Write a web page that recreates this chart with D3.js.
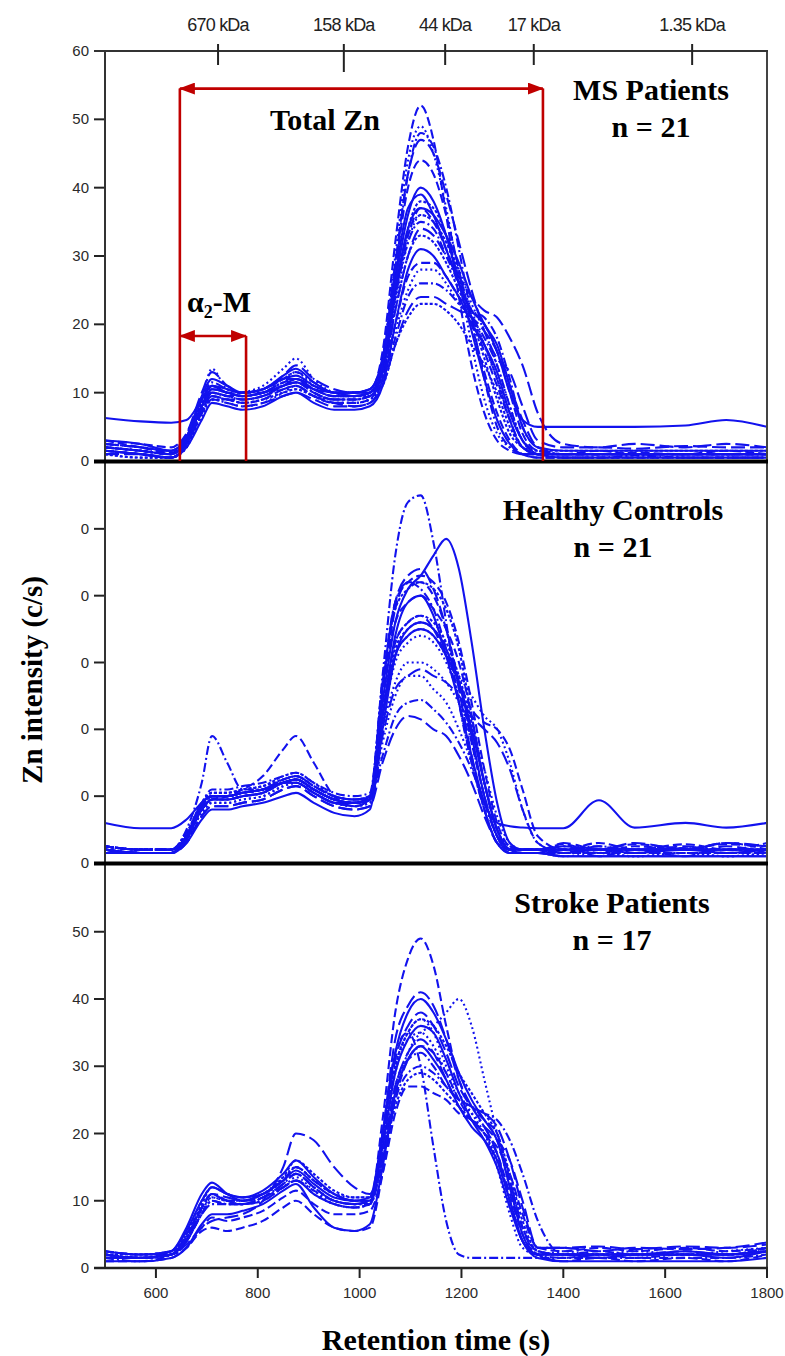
<!DOCTYPE html>
<html>
<head>
<meta charset="utf-8">
<script src="https://cdn.jsdelivr.net/npm/d3@7"></script>
<style>
  body { margin: 0; background: #fff; }
  svg { display: block; }
</style>
</head>
<body>
<svg id="chart"></svg>
<script>
// ************************************************************************************************** //
// Data

// retention time grid (s) shared by all traces
var retentionTimes = [500, 570, 630, 660, 690, 710, 740, 770, 810, 850, 875, 910, 950, 990, 1020, 1045, 1070, 1095,
  1120, 1145, 1170, 1195, 1220, 1245, 1270, 1295, 1320, 1350, 1400, 1470, 1540, 1640, 1720, 1800];

var msCurves = [
  [6.3, 5.8, 5.6, 6, 9, 11, 10.5, 10, 10.5, 12, 12.5, 11, 10, 10, 10.5, 15, 27, 37, 39, 36, 31, 26, 22, 20, 16, 10, 6, 5, 5, 5, 5, 5.2, 6, 5],
  [3, 2, 1.2, 3, 8, 11, 10, 9.5, 10, 11.5, 12, 10.5, 9.5, 9.5, 10, 16, 32, 46, 52, 47, 36, 24, 14, 7, 3, 1.5, 1, 1, 1, 1.5, 1, 1, 1.5, 1],
  [2, 1.5, 1, 3.5, 9, 13.5, 10.5, 10, 10.5, 12, 13, 11, 10, 9.5, 10, 15, 30, 44, 49, 45, 37, 27, 17, 9, 4, 2, 1, 1, 1, 1, 1, 1, 1, 1],
  [1.5, 1, 0.5, 2.5, 7, 10, 9.5, 9, 9.5, 11, 11.5, 10, 9, 9, 9.5, 14, 28, 42, 48, 46, 40, 31, 21, 12, 5, 2, 1, 0.5, 0.5, 0.5, 0.8, 0.5, 0.5, 0.5],
  [2.5, 2, 1.5, 4, 10, 13, 11, 10, 10, 12.5, 14, 12, 10.5, 10, 10.5, 15, 29, 42, 47, 45, 39, 32, 25, 19, 15, 13, 8, 3, 2, 2, 1.8, 2.2, 2, 2],
  [1, 0.5, 0.5, 2, 7, 9, 9, 8.5, 9, 10, 10.5, 9.5, 9, 9, 9.5, 13, 24, 34, 38, 37, 33, 27, 21, 15, 9, 4, 2, 1, 1, 1, 1, 1, 1, 1],
  [2, 1.5, 1, 3, 8, 10.5, 10, 9.5, 10, 11, 11.5, 10.5, 10, 9.5, 10, 13, 25, 34, 37, 36, 33, 29, 24, 20, 17, 11, 5, 2, 1.5, 1.5, 1.5, 1.5, 1.5, 1.5],
  [3, 2.5, 2, 4, 9, 11, 10, 10, 10.5, 12, 12, 11, 10, 10, 10, 14, 25, 33, 37, 35, 31, 26, 21, 16, 11, 6, 2, 1, 1, 1, 1.2, 1, 1, 1],
  [1.5, 1, 0.5, 2, 6.5, 9, 8.5, 8, 8.5, 10, 11, 9.5, 8.5, 8.5, 9, 12, 23, 32, 36, 35, 32, 28, 23, 19, 14, 8, 3, 1, 0.5, 0.5, 0.5, 0.5, 0.5, 0.5],
  [2, 1.5, 1, 3, 8, 10, 9.5, 9, 9.5, 11, 12, 10, 9, 9, 9.5, 13, 24, 32, 35, 34, 30, 26, 22, 21, 18, 12, 5, 2, 1, 1, 1, 1, 1, 1],
  [1, 1, 0.5, 2.5, 7.5, 9.5, 9, 9, 9.5, 10.5, 11, 9.5, 8.5, 8, 8.5, 12, 22, 30, 34, 33, 30, 27, 24, 22, 21, 18, 14, 7, 2.5, 2, 2.5, 2, 2.5, 2],
  [2.5, 2, 1.5, 3.5, 8.5, 10.5, 10, 9.5, 10, 11.5, 12, 10.5, 9.5, 9.5, 10, 13, 22, 30, 33, 32, 29, 25, 21, 17, 12, 6, 2, 1.5, 1.5, 1.5, 1.5, 1.5, 1.5, 1.5],
  [1.5, 1, 0.5, 2, 6, 8.5, 8, 7.5, 8, 9.5, 10, 8.5, 7.5, 7.5, 8, 11, 20, 28, 31, 30, 27, 24, 20, 17, 13, 7, 3, 1, 0.5, 0.5, 0.5, 0.5, 0.5, 0.5],
  [2, 1.5, 1, 3, 8, 10, 9.5, 9.5, 10, 11, 11.5, 10, 9, 9, 9.5, 12, 20, 27, 29, 29, 27, 24, 22, 20, 16, 10, 4, 1.5, 1, 1, 1, 1, 1, 1],
  [1, 0.5, 0.5, 2, 7, 9, 9, 8.5, 9, 10, 10.5, 9.5, 8.5, 8.5, 9, 12, 19, 25, 28, 28, 26, 23, 20, 17, 12, 6, 2, 1, 1, 1, 1, 1, 1, 1],
  [2.5, 2, 1.5, 3.5, 9, 11.5, 10.5, 10, 10.5, 12, 13, 11.5, 10, 10, 10, 12, 18, 24, 26, 26, 25, 23, 21, 18, 14, 8, 3, 1.5, 1, 1, 1, 1, 1, 1],
  [1.5, 1, 0.5, 2.5, 7, 9, 8.5, 8, 8.5, 9.5, 10, 9, 8, 8, 8.5, 11, 17, 22, 24, 24, 23, 22, 21, 19, 16, 11, 6, 2, 1, 1, 1, 1, 1, 1],
  [2, 1.5, 1, 3, 8, 10.5, 10, 9.5, 10, 11, 12, 10.5, 9.5, 9.5, 9.5, 11, 17, 21, 23, 23, 22, 20, 17, 14, 10, 5, 2, 1, 1, 1, 1, 1, 1, 1],
  [3, 2.5, 1.5, 3.5, 9.5, 12, 11, 10, 10.5, 12.5, 13.5, 11.5, 10, 10, 10.5, 14, 26, 36, 40, 38, 33, 26, 19, 12, 6, 2.5, 1, 1, 1, 1, 1, 1, 1, 1],
  [1.5, 1, 0.5, 2.5, 7.5, 9.5, 9, 8.5, 9, 10.5, 11, 9.5, 8.5, 8.5, 9, 14, 28, 40, 44, 42, 36, 28, 20, 13, 7, 3, 1, 0.5, 0.5, 0.5, 0.5, 0.5, 0.5, 0.5],
  [2, 1.5, 1, 3, 8, 10, 9.5, 10, 11, 13.5, 15, 12, 10, 9.5, 10, 13, 24, 33, 36, 35, 32, 27, 22, 17, 12, 7, 3, 1, 1, 1, 1, 1, 1, 1]
];

var controlCurves = [
  [6, 5.2, 5.2, 6.5, 9, 10, 10, 10.5, 11, 12, 12, 10.5, 9, 9, 10, 22, 34, 39, 40, 37, 31, 24, 16, 9, 6, 5.5, 5.3, 5.2, 5.2, 9.4, 5.3, 6, 5.3, 6],
  [2.5, 2, 2, 4, 8, 9.5, 10, 11, 13, 17, 19, 15, 10, 8.5, 9.5, 25, 38, 42, 42, 40, 35, 27, 18, 10, 4, 2, 2, 2, 2.8, 1.5, 2.5, 2, 3, 2],
  [2, 1.5, 1.5, 3.5, 8, 9.5, 9.5, 10, 10.5, 12, 12.5, 11, 9.5, 9, 9.5, 21, 31, 34, 35, 34, 31, 28, 25, 22, 20, 15, 8, 3, 1.5, 1.5, 1, 1.5, 1, 1.5],
  [2.5, 2, 2, 5, 12, 19, 15, 11, 11, 12, 12.5, 11, 9.5, 9, 10, 28, 46, 54, 55, 48, 36, 24, 15, 8, 3, 2, 2, 2, 2, 2.5, 2, 2.2, 2, 2],
  [2, 1.5, 1.5, 3.5, 8.5, 10, 10, 10.5, 11, 12.5, 13, 11.5, 10, 9.5, 10, 26, 39, 43, 44, 41, 35, 26, 16, 8, 3, 1.5, 1.5, 1.5, 2.5, 1, 2, 1, 2.5, 1.5],
  [2.5, 2, 2, 4.5, 9, 10.5, 10.5, 11, 11.5, 12.5, 13, 11.5, 10, 9.5, 10, 22, 32, 35, 36, 35, 32, 27, 20, 12, 5, 2.5, 2, 2, 2, 2, 2, 2, 2, 2],
  [2, 1.5, 1.5, 4, 9, 10, 10, 10.5, 11, 12, 12.5, 11, 9.5, 9, 9.5, 24, 36, 41, 43, 46, 48.5, 44, 33, 20, 9, 3, 2, 2, 1.5, 2, 1.5, 2, 1.5, 2],
  [2.5, 2, 2, 4, 8.5, 10, 10, 10.5, 11, 12, 12.5, 11, 9.5, 9, 9.5, 22, 33, 36, 37, 35, 31, 27, 23, 21, 20, 17, 11, 4, 2, 3, 2, 2.8, 2, 3],
  [2, 1.5, 1.5, 3.5, 7.5, 9, 9, 9.5, 10, 11.5, 12, 10.5, 9, 8.5, 9, 18, 25, 28, 28, 26, 24, 20, 15, 9, 4, 2, 1.5, 1.5, 1, 1.5, 1, 1.5, 1, 1.5],
  [2.5, 2, 2, 4, 8, 9.5, 9.5, 10, 10.5, 12, 12.5, 11, 9.5, 9, 9.5, 16, 22, 24, 24.4, 23, 21, 18, 14, 9, 4, 2, 2, 2, 2, 2, 2, 2, 2, 2],
  [2, 1.5, 1.5, 3, 7, 8.5, 8.5, 9, 9.5, 11, 11.5, 10, 8.5, 8, 8.5, 15, 20, 22, 21.5, 20, 19, 16, 12, 7, 3, 1.5, 1.5, 1.5, 3, 2, 3, 2, 3, 2.5],
  [2.5, 2, 2, 4.5, 9, 10.5, 10.5, 11, 11.5, 13, 13.5, 12, 10, 9.5, 10, 27, 38, 41, 42, 41, 38, 32, 22, 12, 5, 2, 2, 2, 2, 2, 2, 2, 2, 2],
  [2, 1.5, 1.5, 3.5, 8, 9.5, 9.5, 10, 10.5, 12, 12, 10.5, 9, 8.5, 9.5, 22, 31, 34, 35, 34, 31, 27, 20, 12, 5, 2, 1.5, 1.5, 1, 1, 1, 1, 1, 1],
  [2.5, 2, 2, 4, 8.5, 10, 10, 10.5, 11, 12.5, 13, 11.5, 10, 9.5, 10, 26, 39, 42, 43, 42, 39, 33, 24, 14, 6, 2.5, 2, 2, 2.5, 2, 2.8, 2.2, 2.8, 2.5],
  [2, 1.5, 1.5, 3.5, 7.5, 9, 9, 9.5, 10, 11.5, 12, 10.5, 9, 8.5, 9, 21, 30, 33, 34, 33, 30, 25, 18, 10, 4, 2, 1.5, 1.5, 1.5, 1.5, 1.5, 1.5, 1.5, 1.5],
  [2.5, 2, 2, 4.5, 9, 11, 11, 11.5, 12, 13, 13.5, 12, 10.5, 10, 10.5, 27, 39, 42, 41, 38, 32, 24, 15, 8, 3, 2, 2, 2, 2, 2, 2, 2, 2, 2],
  [2, 1.5, 1.5, 3, 7, 8.5, 8.5, 9, 9.5, 11, 11.5, 10, 8.5, 8, 8.5, 19, 26, 28, 29, 28, 27, 25, 22, 20, 18, 14, 8, 3, 1.5, 2.5, 1.5, 2.5, 1.5, 2],
  [2.5, 2, 2, 4, 8.5, 10, 10, 10.5, 11, 12, 12.5, 11, 9.5, 9, 9.5, 23, 33, 36, 37, 36, 33, 28, 21, 12, 5, 2, 2, 2, 2, 2, 2, 2, 2, 2],
  [1.5, 1.5, 1.5, 3, 6.5, 8, 8, 8.5, 9, 10, 10.5, 9, 7.5, 7, 8, 20, 31, 35, 36, 35, 32, 27, 19, 10, 4, 1.5, 1.5, 1.5, 1, 1, 1, 1, 1, 1],
  [2, 1.5, 1.5, 3.5, 8, 9.5, 9.5, 10, 10.5, 12, 12.5, 11, 9.5, 9, 9.5, 25, 36, 39, 40, 38, 35, 30, 22, 12, 5, 2, 1.5, 1.5, 1.5, 1.5, 1.5, 1.5, 1.5, 1.5],
  [2.5, 2, 2, 4, 8.5, 10, 10, 10.5, 11, 12, 12.5, 11, 9.5, 9, 9.5, 20, 27, 30, 30, 29, 27, 24, 20, 14, 7, 3, 2, 2, 2, 2, 2, 2, 2, 2]
];

var strokeCurves = [
  [2, 1.5, 2.5, 5.5, 10, 12, 11, 10.5, 11.5, 14, 16, 13.5, 11, 10, 10.5, 20, 32, 38, 40, 38, 34, 29, 25, 22, 19, 12, 5, 2, 2, 1.5, 2, 2, 1.5, 2.5],
  [2.5, 2, 2, 5, 9, 11, 10, 10, 11, 13, 15, 13, 11, 10, 10, 22, 38, 46, 49, 45, 36, 28, 24, 22, 20, 13, 6, 2.5, 2, 2.5, 2, 2.5, 2, 3],
  [2.5, 2, 2.5, 4.5, 8.5, 10.5, 10, 10, 11, 13, 14, 12, 10, 9.5, 9.5, 16, 26, 32, 35, 36, 38, 40, 36, 28, 20, 12, 6, 2.5, 2, 2, 2, 2, 2, 2.5],
  [1.5, 1, 2, 4, 8, 10, 9.5, 9.5, 10, 12, 13, 11, 9.5, 9, 9.5, 20, 32, 35, 30, 18, 7, 2, 1.5, 1.5, 1.5, 1.5, 1.5, 1.5, 1.5, 1.5, 1.5, 1.5, 1.5, 2],
  [1.5, 1.5, 2, 4, 9, 11, 10, 9.5, 10.5, 12.5, 14, 12, 10, 9.5, 10, 19, 31, 36, 38, 36, 32, 27, 24, 23, 21, 16, 9, 3, 3, 2.5, 3, 2.8, 3, 3.8],
  [2, 1.5, 2, 4.5, 9.5, 12, 11, 10.5, 11, 13.5, 16, 14, 11.5, 10.5, 10.5, 19, 30, 35, 37, 36, 33, 29, 26, 23, 20, 14, 7, 2.5, 2, 2, 2, 2, 2, 3],
  [2.5, 2, 2.5, 6, 11, 12.7, 11, 10, 11, 13, 14.5, 12.5, 10.5, 10, 10, 18, 29, 34, 36, 35, 31, 26, 22, 19, 15, 9, 4, 2, 2, 2, 2, 2.5, 2, 2.5],
  [1, 1, 1.5, 3, 5.5, 6, 5.5, 6, 7, 9, 10, 8, 6, 5.5, 6, 14, 25, 31, 33, 32, 29, 25, 22, 20, 17, 11, 5, 2, 1, 1.5, 1, 1.5, 1, 2],
  [2, 1.5, 2, 4.5, 9, 11, 10, 9.5, 10.5, 12, 13.5, 11.5, 9.5, 9, 9.5, 17, 29, 34, 35, 33, 29, 25, 23, 21, 17, 10, 4, 2, 2.5, 2, 2.5, 2, 2.5, 3],
  [1.5, 1.5, 2, 4, 8, 10, 9.5, 9.5, 10.5, 12.5, 14, 12, 10, 9.5, 9.5, 16, 27, 31, 32, 30, 27, 25, 24, 22, 19, 13, 6, 2, 1.5, 2, 1.5, 2, 2, 2.5],
  [2, 1.5, 2, 3.5, 6, 7, 7.5, 8, 10, 15, 20, 19, 15, 12, 11, 17, 27, 32, 34, 32, 28, 24, 22, 21, 19, 16, 10, 3, 3, 3.2, 2.8, 3.2, 3, 3.5],
  [2, 2, 2.5, 5, 10, 12, 11, 10.5, 11, 13, 15, 13, 11, 10, 10, 16, 24, 28, 29, 28, 26, 24, 22, 20, 16, 10, 4, 2, 2, 2, 2, 2, 2, 2.5],
  [1, 1, 1.5, 3, 6.5, 8, 8, 8.5, 9.5, 11.5, 12.5, 9, 6, 5.5, 6.5, 15, 26, 31, 33, 31, 28, 24, 21, 19, 16, 10, 4, 1.5, 1, 1, 1, 1, 1, 1.5],
  [1.5, 1.5, 2, 3, 6, 7.5, 7, 7.5, 8.5, 10.5, 11.5, 9.5, 8, 8, 8.5, 14, 23, 27, 27, 26, 25, 23, 22, 20, 18, 14, 8, 3, 2.5, 3, 2.5, 3, 2.5, 3],
  [2, 1.5, 2, 4, 8.5, 10.5, 10, 10, 11, 13.5, 15, 13, 11, 10.5, 10.5, 19, 30, 35, 37, 35, 30, 26, 23, 20, 15, 8, 3, 2, 2, 2, 2, 2, 2, 2.5],
  [2.5, 2, 2.5, 4, 8, 9.5, 9.5, 9.5, 10, 12, 13, 11.5, 10, 9.5, 10, 16, 25, 29, 30, 29, 27, 25, 24, 23, 22, 19, 14, 7, 2, 2, 2, 2, 2, 3],
  [2, 1.5, 2, 4.5, 9, 11, 10.5, 10, 10.5, 12, 13, 11, 9.5, 9, 9.5, 20, 34, 39, 41, 39, 34, 28, 24, 21, 17, 10, 4, 2, 2, 2, 2, 2, 2, 2.5]
];

var panelNames = ['MS Patients', 'Healthy Controls', 'Stroke Patients'];
var panelCounts = ['n = 21', 'n = 21', 'n = 17'];

var yTicks = [0, 10, 20, 30, 40, 50, 60];
var xTicks = [600, 800, 1000, 1200, 1400, 1600, 1800];

var mwTimes = [722, 969, 1168, 1342, 1653];
var mwLabels = ['670 kDa', '158 kDa', '44 kDa', '17 kDa', '1.35 kDa'];

var totalZnRange = [647, 1360], totalZnLevel = 54.5;
var alphaRange = [647, 777], alphaLevel = 18.3;

// ************************************************************************************************** //
// Setup

var width = 785, height = 1356;
var blue = '#1212ee', red = '#c00000';
var dashes = ['none', '9,4', '2,3', '9,3,2,3', '14,5', '3,2'];
var serif = '"Liberation Serif", "Times New Roman", serif';
var sans = '"Liberation Sans", Arial, sans-serif';

var svg = d3.select('#chart').attr('width', width).attr('height', height);
svg.append('rect').attr('width', width).attr('height', height).attr('fill', '#fff');

var x = d3.scaleLinear().domain([500, 1800]).range([105, 767]);

var panels = [
  { curves: msCurves,      y: d3.scaleLinear().domain([0, 60]).range([461, 51]),     labels: function(d){ return d; },   top: 51 },
  { curves: controlCurves, y: d3.scaleLinear().domain([0, 60]).range([863, 462]),    labels: function(d){ return '0'; }, top: 462 },
  { curves: strokeCurves,  y: d3.scaleLinear().domain([0, 60]).range([1268, 864.5]), labels: function(d){ return d; },   top: 864 }
];
var titlePos = [{ x: 651, y: 100 }, { x: 613, y: 520 }, { x: 612, y: 913 }];

var defs = svg.append('defs');
defs.append('marker').attr('id', 'arrow')
  .attr('viewBox', '0 0 16 12').attr('refX', 15).attr('refY', 6)
  .attr('markerUnits', 'userSpaceOnUse').attr('markerWidth', 16).attr('markerHeight', 12)
  .attr('orient', 'auto-start-reverse')
  .append('path').attr('d', 'M0,0 L16,6 L0,12 z').attr('fill', red);

// ************************************************************************************************** //
// Panels

panels.forEach(function(p, pi){
  var g = svg.append('g');

  var line = d3.line()
    .x(function(d, i){ return x(retentionTimes[i]); })
    .y(function(d){ return p.y(d); })
    .curve(d3.curveMonotoneX);

  g.selectAll('path.trace').data(p.curves).enter().append('path')
    .attr('class', 'trace')
    .attr('d', line)
    .attr('fill', 'none')
    .attr('stroke', blue)
    .attr('stroke-width', 2.1)
    .attr('stroke-dasharray', function(d, i){ return dashes[i % dashes.length]; });

  // y ticks (left, outward)
  var ticks = yTicks.filter(function(t){ return p.y(t) >= p.top - 1; });
  if(pi > 0) ticks = ticks.filter(function(t){ return t < 60; });
  g.selectAll('line.ytick').data(ticks).enter().append('line')
    .attr('x1', 94).attr('x2', 105)
    .attr('y1', function(d){ return p.y(d); }).attr('y2', function(d){ return p.y(d); })
    .attr('stroke', '#222').attr('stroke-width', 2);
  g.selectAll('text.ylab').data(ticks).enter().append('text')
    .attr('x', 89).attr('y', function(d){ return p.y(d) + 5; })
    .attr('text-anchor', 'end')
    .style('font-family', sans).style('font-size', '15px').attr('fill', '#2a2a2a')
    .text(p.labels);

  // panel title
  var tp = titlePos[pi];
  g.append('text').attr('x', tp.x).attr('y', tp.y).attr('text-anchor', 'middle')
    .style('font-family', serif).style('font-weight', 'bold').style('font-size', '30px')
    .text(panelNames[pi]);
  g.append('text').attr('x', tp.x).attr('y', tp.y + 37).attr('text-anchor', 'middle')
    .style('font-family', serif).style('font-weight', 'bold').style('font-size', '30px')
    .text(panelCounts[pi]);
});

// ************************************************************************************************** //
// Frame

var frame = svg.append('g');
frame.append('line').attr('x1', 105).attr('x2', 105).attr('y1', 51).attr('y2', 1268).attr('stroke', '#333').attr('stroke-width', 2);
frame.append('line').attr('x1', 767).attr('x2', 767).attr('y1', 51).attr('y2', 1268).attr('stroke', '#444').attr('stroke-width', 2);
frame.append('line').attr('x1', 94).attr('x2', 768).attr('y1', 51).attr('y2', 51).attr('stroke', '#333').attr('stroke-width', 2);
[461.5, 863.5].forEach(function(yy){
  frame.append('line').attr('x1', 94).attr('x2', 768).attr('y1', yy).attr('y2', yy).attr('stroke', '#000').attr('stroke-width', 4);
});
frame.append('line').attr('x1', 94).attr('x2', 768).attr('y1', 1268).attr('y2', 1268).attr('stroke', '#222').attr('stroke-width', 2.5);

// bottom x axis
frame.selectAll('line.xtick').data(xTicks).enter().append('line')
  .attr('x1', function(d){ return x(d); }).attr('x2', function(d){ return x(d); })
  .attr('y1', 1268).attr('y2', 1278).attr('stroke', '#222').attr('stroke-width', 2);
frame.selectAll('text.xlab').data(xTicks).enter().append('text')
  .attr('x', function(d){ return x(d); }).attr('y', 1298)
  .attr('text-anchor', 'middle')
  .style('font-family', sans).style('font-size', '15px').attr('fill', '#2a2a2a')
  .text(function(d){ return d; });

// top molecular weight axis
frame.selectAll('line.mwtick').data(mwTimes).enter().append('line')
  .attr('x1', function(d){ return x(d); }).attr('x2', function(d){ return x(d); })
  .attr('y1', 44).attr('y2', function(d, i){ return i === 1 ? 72 : 65; })
  .attr('stroke', '#222').attr('stroke-width', 2);
frame.selectAll('text.mwlab').data(mwTimes).enter().append('text')
  .attr('x', function(d){ return x(d); }).attr('y', 31)
  .attr('text-anchor', 'middle')
  .style('font-family', sans).style('font-size', '18px').style('letter-spacing', '-0.8px').attr('fill', '#222')
  .text(function(d, i){ return mwLabels[i]; });

// axis titles
svg.append('text').attr('x', 436).attr('y', 1350).attr('text-anchor', 'middle')
  .style('font-family', serif).style('font-weight', 'bold').style('font-size', '30px')
  .text('Retention time (s)');
svg.append('text').attr('transform', 'translate(42,680) rotate(-90)').attr('text-anchor', 'middle')
  .style('font-family', serif).style('font-weight', 'bold').style('font-size', '29px')
  .text('Zn intensity (c/s)');

// ************************************************************************************************** //
// Annotations (MS panel)

var yMS = panels[0].y;
var ann = svg.append('g').attr('stroke', red).attr('stroke-width', 2.6).attr('fill', 'none');
ann.append('line').attr('x1', x(totalZnRange[0])).attr('x2', x(totalZnRange[0])).attr('y1', yMS(totalZnLevel)).attr('y2', yMS(0));
ann.append('line').attr('x1', x(totalZnRange[1])).attr('x2', x(totalZnRange[1])).attr('y1', yMS(totalZnLevel)).attr('y2', yMS(0));
ann.append('line').attr('x1', x(totalZnRange[0])).attr('x2', x(totalZnRange[1])).attr('y1', yMS(totalZnLevel)).attr('y2', yMS(totalZnLevel))
  .attr('marker-start', 'url(#arrow)').attr('marker-end', 'url(#arrow)');
ann.append('line').attr('x1', x(alphaRange[1])).attr('x2', x(alphaRange[1])).attr('y1', yMS(alphaLevel)).attr('y2', yMS(0));
ann.append('line').attr('x1', x(alphaRange[0])).attr('x2', x(alphaRange[1])).attr('y1', yMS(alphaLevel)).attr('y2', yMS(alphaLevel))
  .attr('marker-start', 'url(#arrow)').attr('marker-end', 'url(#arrow)');

svg.append('text').attr('x', 325).attr('y', 130).attr('text-anchor', 'middle')
  .style('font-family', serif).style('font-weight', 'bold').style('font-size', '30px')
  .text('Total Zn');
var alphaText = svg.append('text').attr('x', 187).attr('y', 312)
  .style('font-family', serif).style('font-weight', 'bold').style('font-size', '30px');
alphaText.append('tspan').text('α');
alphaText.append('tspan').attr('dy', 6).style('font-size', '18px').text('2');
alphaText.append('tspan').attr('dy', -6).text('-M');
</script>
</body>
</html>
